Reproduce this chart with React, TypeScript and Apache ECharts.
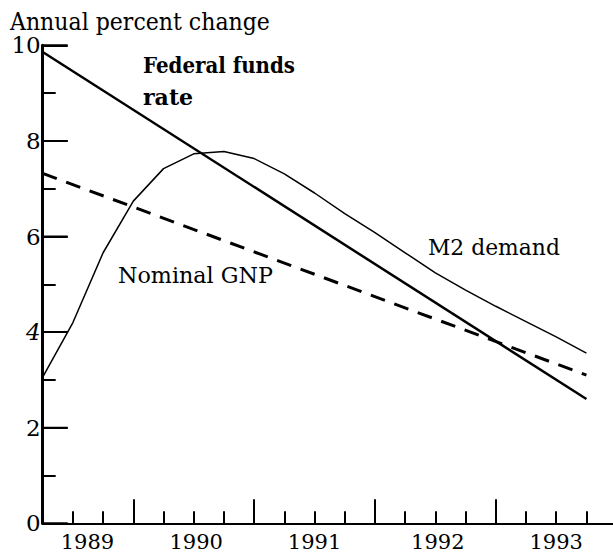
import React, { useEffect, useRef } from "react";
import * as echarts from "echarts";

// ---- Data ----
const fedFundsX = [1989.25, 1993.75];
const fedFundsY = [9.86, 2.6];

const nominalGnpX = [1989.25, 1993.75];
const nominalGnpY = [7.32, 3.1];

const m2X = [
  1989.25, 1989.5, 1989.75, 1990.0, 1990.25, 1990.5, 1990.75, 1991.0, 1991.25,
  1991.5, 1991.75, 1992.0, 1992.25, 1992.5, 1992.75, 1993.0, 1993.25, 1993.5, 1993.75,
];
const m2Y = [
  3.06, 4.2, 5.66, 6.74, 7.42, 7.73, 7.78, 7.63, 7.31,
  6.91, 6.48, 6.08, 5.66, 5.24, 4.88, 4.54, 4.22, 3.9, 3.56,
];

const quarterTicks = [
  1989.5, 1989.75, 1990.25, 1990.5, 1990.75, 1991.25, 1991.5, 1991.75,
  1992.25, 1992.5, 1992.75, 1993.25, 1993.5, 1993.75,
];
const yearTicks = [1990, 1991, 1992, 1993];
const yearLabels = ["1989", "1990", "1991", "1992", "1993"];
const yearLabelPositions = [1989.62, 1990.52, 1991.5, 1992.52, 1993.5];

const yMajorTicks = [0, 2, 4, 6, 8, 10];
const yMinorTicks = [1, 3, 5, 7, 9];

const SERIF = "DejaVu Serif";

function pairs(xs: number[], ys: number[]) {
  return xs.map((x, i) => [x, ys[i]]);
}

export default function App() {
  const ref = useRef<HTMLDivElement>(null);

  useEffect(() => {
    if (!ref.current) return;
    const chart = echarts.init(ref.current, null, { renderer: "svg" });
    const xMin = 1989.25;
    const xMax = 1993.97;
    const ctx = document.createElement("canvas").getContext("2d") as CanvasRenderingContext2D;
    // text placed by left x, baseline y, font size, target width
    const txt = (text: string, x: number, baseline: number, size: number, targetW: number, bold = false) => {
      const font = `${bold ? "bold " : ""}${size}px ${SERIF}`;
      ctx.font = font;
      const w = ctx.measureText(text).width || targetW;
      return {
        type: "text",
        x,
        y: baseline - 0.346 * size,
        scaleX: targetW / w,
        style: {
          text,
          font,
          fill: "#000",
          align: "left",
          verticalAlign: "middle",
        },
      };
    };
    const tickAxisY = (vals: number[], len: number) => ({
      type: "value",
      min: 0,
      max: 10,
      position: "left",
      axisLine: { show: false },
      axisTick: {
        show: true,
        inside: true,
        length: len,
        customValues: vals,
        lineStyle: { color: "#000", width: 2 },
      },
      axisLabel: { show: false },
      splitLine: { show: false },
    });
    const option: any = {
      animation: false,
      backgroundColor: "#ffffff",
      textStyle: { fontFamily: SERIF },
      grid: { left: 42.7, right: 0, top: 45.3, bottom: 30.7, containLabel: false },
      xAxis: [
        {
          type: "value",
          min: xMin,
          max: xMax,
          position: "bottom",
          axisLine: { show: true, lineStyle: { color: "#000", width: 2 } },
          axisTick: {
            show: true,
            inside: true,
            length: 12,
            customValues: quarterTicks,
            lineStyle: { color: "#000", width: 2 },
          },
          axisLabel: {
            show: true,
            customValues: yearLabelPositions,
            formatter: (v: number) => {
              const i = yearLabelPositions.findIndex((p) => Math.abs(p - v) < 1e-6);
              return i >= 0 ? yearLabels[i] : "";
            },
            margin: 8,
            color: "#000",
            fontFamily: SERIF,
            fontSize: 21,
          },
          splitLine: { show: false },
        },
        {
          type: "value",
          min: xMin,
          max: xMax,
          position: "bottom",
          axisLine: { show: false },
          axisTick: {
            show: true,
            inside: true,
            length: 24,
            customValues: yearTicks,
            lineStyle: { color: "#000", width: 2 },
          },
          axisLabel: { show: false },
          splitLine: { show: false },
        },
        {
          type: "value",
          min: xMin,
          max: xMax,
          position: "top",
          axisLine: { show: true, lineStyle: { color: "#000", width: 2 } },
          axisTick: { show: false },
          axisLabel: { show: false },
          splitLine: { show: false },
        },
      ],
      yAxis: [
        {
          type: "value",
          min: 0,
          max: 10,
          position: "left",
          axisLine: { show: true, lineStyle: { color: "#000", width: 3 } },
          axisTick: { show: false },
          axisLabel: { show: false },
          splitLine: { show: false },
        },
        tickAxisY(yMinorTicks, 13),
        tickAxisY(yMajorTicks, 25),
      ],
      series: [
        {
          name: "Y tick labels",
          type: "custom",
          xAxisIndex: 0,
          yAxisIndex: 0,
          data: yMajorTicks.map((v) => [xMin, v]),
          silent: true,
          clip: false,
          z: 5,
          renderItem: (params: any, api: any) => {
            const v = api.value(1);
            const p = api.coord([api.value(0), v]);
            return {
              type: "group",
              children: [
                {
                  type: "rect",
                  shape: { x: p[0], y: p[1] - 1, width: 25, height: 2 },
                  style: { fill: "#000" },
                },
                {
                  type: "text",
                  x: p[0] - 2,
                  y: p[1],
                  style: {
                    text: String(v),
                    font: `${v === 4 ? "italic " : ""}23px ${SERIF}`,
                    fill: "#000",
                    align: "right",
                    verticalAlign: "middle",
                  },
                },
              ],
            };
          },
        },
        {
          name: "Federal funds rate",
          type: "line",
          xAxisIndex: 0,
          yAxisIndex: 0,
          data: pairs(fedFundsX, fedFundsY),
          symbol: "none",
          lineStyle: { color: "#000", width: 2.5 },
          z: 3,
        },
        {
          name: "Nominal GNP",
          type: "line",
          xAxisIndex: 0,
          yAxisIndex: 0,
          data: pairs(nominalGnpX, nominalGnpY),
          symbol: "none",
          lineStyle: { color: "#000", width: 3, type: [15, 10] },
          z: 3,
        },
        {
          name: "M2 demand",
          type: "line",
          xAxisIndex: 0,
          yAxisIndex: 0,
          data: pairs(m2X, m2Y),
          symbol: "none",
          lineStyle: { color: "#000", width: 1.5 },
          z: 3,
        },
      ],
      graphic: [
        txt("Annual percent change", 10, 30, 25, 260),
        txt("Federal funds", 143, 73.3, 23, 152, true),
        txt("rate", 143, 105, 23, 152 * 0.33, true),
        txt("M2 demand", 428, 255, 23, 132),
        txt("Nominal GNP", 118, 283.3, 23, 155),
      ],
    };
    chart.setOption(option);
    return () => chart.dispose();
  }, []);

  return (
    <div
      ref={ref}
      style={{ position: "absolute", left: 0, top: 0, width: 613, height: 554, background: "#fff" }}
    />
  );
}
